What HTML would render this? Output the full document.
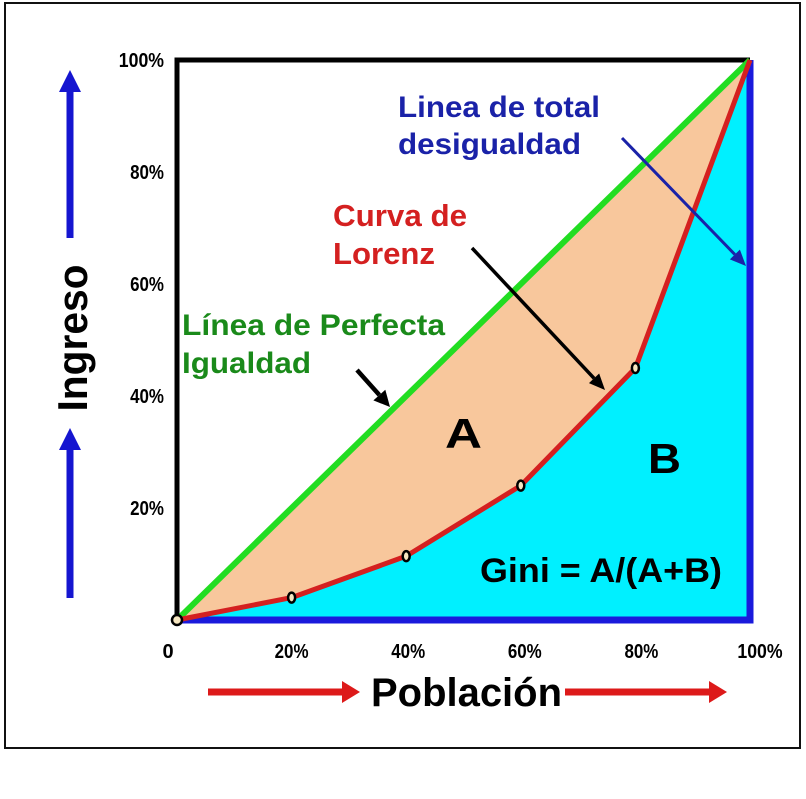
<!DOCTYPE html>
<html><head><meta charset="utf-8"><style>
html,body{margin:0;padding:0;background:#fff;}
svg{display:block;}
text{font-family:"Liberation Sans",Arial,sans-serif;font-weight:bold;}
</style></head><body>
<svg id="c" width="806" height="799" viewBox="0 0 806 799">
<rect x="5" y="3" width="795" height="745" fill="#fff" stroke="#111" stroke-width="2"/>
<g id="plot"></g>
</svg>
<script>
const popPct = [0, 20, 40, 60, 80, 100];
const incomePct = [0, 4, 11.4, 24, 45, 100];
const xTickLabels = ["0", "20%", "40%", "60%", "80%", "100%"];
const yTickValues = [20, 40, 60, 80, 100];
const yTickLabels = ["20%", "40%", "60%", "80%", "100%"];

const X0=177,X1=750,Y0=620,Y1=60;
const sx=v=>X0+(X1-X0)*v/100, sy=v=>Y0-(Y0-Y1)*v/100;
const NS="http://www.w3.org/2000/svg";
const g=document.getElementById('plot');
function mk(tag,attrs,parent){const e=document.createElementNS(NS,tag);for(const k in attrs)e.setAttribute(k,attrs[k]);(parent||g).appendChild(e);return e;}

const lpts=popPct.map((p,i)=>sx(p)+','+sy(incomePct[i])).join(' ');
let e=mk('polygon',{points:lpts+' '+sx(100)+','+sy(0),fill:'#00f0ff'});


e=mk('polygon',{points:lpts,fill:'#f8c79c'});


e=mk('polyline',{points:`${sx(0)},${sy(0)} ${sx(0)},${sy(100)} ${sx(100)},${sy(100)}`,fill:'none',stroke:'#000','stroke-width':5});


e=mk('polyline',{points:`${sx(0)},${sy(0)} ${sx(100)},${sy(0)} ${sx(100)},${sy(100)}`,fill:'none',stroke:'#1a1adc','stroke-width':7});


e=mk('line',{x1:sx(0),y1:sy(0),x2:sx(100),y2:sy(100),stroke:'#22dd22','stroke-width':6});


e=mk('polyline',{points:lpts,fill:'none',stroke:'#d42020','stroke-width':5,'stroke-linejoin':'round'});


popPct.forEach((p,i)=>{
  if(i===popPct.length-1)return;
  const m=mk('ellipse',{cx:sx(p),cy:sy(incomePct[i]),rx:i===0?5:3.5,ry:5,fill:'#f6e6c0',stroke:'#000','stroke-width':2.5});
  
  
});
xTickLabels.forEach((t,i)=>{
  const x=i===0?168:(i===xTickLabels.length-1?sx(popPct[i])+10:sx(popPct[i])+(i*2-2));
  const tx=mk('text',{x:x,y:658,'font-size':20,'text-anchor':'middle',fill:'#000'});tx.textContent=t;
  if(t.length>1) {tx.setAttribute('textLength', t.length*11.3);tx.setAttribute('lengthAdjust','spacingAndGlyphs');}
  
  
});
yTickValues.forEach((v,i)=>{
  const t=yTickLabels[i];
  const tx=mk('text',{x:164,y:sy(v)+7,'font-size':20,'text-anchor':'end',fill:'#000'});tx.textContent=t;
  tx.setAttribute('textLength', t.length*11.3);tx.setAttribute('lengthAdjust','spacingAndGlyphs');
  
  
});
function txt(s,x,y,size,fill,name,anchor,len){const t=mk('text',{x:x,y:y,'font-size':size,fill:fill,'text-anchor':anchor||'start'});t.textContent=s;if(len){t.setAttribute('textLength',len);t.setAttribute('lengthAdjust','spacingAndGlyphs');}return t;}
txt('Linea de total',398,117,30,'#1a22a8','inequality-label',null,202);
txt('desigualdad',398,154,30,'#1a22a8','inequality-label-2',null,183);
txt('Curva de',333,226,31,'#d42020','lorenz-label',null,134);
txt('Lorenz',333,264,31,'#d42020','lorenz-label-2',null,102);
txt('Línea de Perfecta',182,335,30,'#1a8a1a','equality-label',null,263);
txt('Igualdad',182,373,30,'#1a8a1a','equality-label-2',null,129);
txt('A',445,448,42,'#000','area-a-label',null,37);
txt('B',648,473,42,'#000','area-b-label',null,33);
txt('Gini = A/(A+B)',480,582,34,'#000','gini-formula',null,242);
txt('Población',371,706,40,'#000','x-axis-title',null,191);
const yt=txt('Ingreso',0,0,42,'#000','y-axis-title','middle',147);
yt.setAttribute('transform','translate(87,338) rotate(-90)');
function arrow(x1,y1,x2,y2,col,w,hl,hw,name){
  const a=Math.atan2(y2-y1,x2-x1),bx=x2-hl*Math.cos(a),by=y2-hl*Math.sin(a);
  const gg=mk('g',{});
  
  
  mk('line',{x1:x1,y1:y1,x2:bx,y2:by,stroke:col,'stroke-width':w},gg);
  const px=-Math.sin(a)*hw,py=Math.cos(a)*hw;
  mk('polygon',{points:`${x2},${y2} ${bx+px},${by+py} ${bx-px},${by-py}`,fill:col},gg);
}
arrow(622,138,746,266,'#1a22a8',3,16,7,'inequality-pointer');
arrow(472,248,605,390,'#000',3.5,16,7,'lorenz-pointer');
arrow(357,370,390,407,'#000',4.5,16,8,'equality-pointer');
arrow(70,238,70,70,'#1515d0',7,22,11,'y-arrow-top');
arrow(70,598,70,428,'#1515d0',7,22,11,'y-arrow-bottom');
arrow(208,692,360,692,'#dd1a1a',7,18,11,'x-arrow-left');
arrow(565,692,727,692,'#dd1a1a',7,18,11,'x-arrow-right');
</script>
</body></html>
